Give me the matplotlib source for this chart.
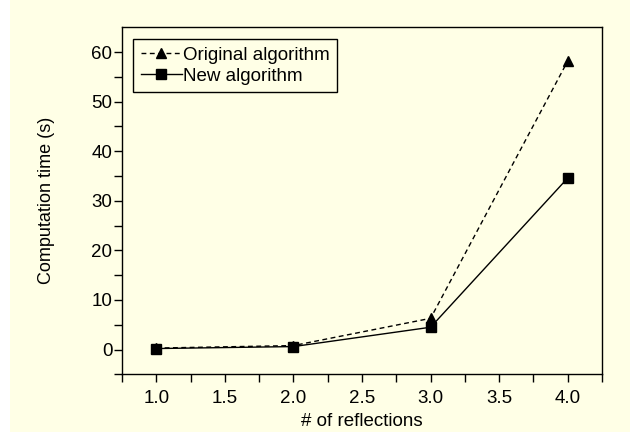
import matplotlib
matplotlib.use("Agg")
from matplotlib import pyplot as plt
from matplotlib.patches import Rectangle
from matplotlib.ticker import MultipleLocator

# Data
reflections = [1.0, 2.0, 3.0, 4.0]
original_time = [0.3, 0.8, 6.3, 58.2]
new_time = [0.2, 0.6, 4.5, 34.6]

bg = '#ffffe6'
plt.rcParams['font.family'] = ['Liberation Sans', 'DejaVu Sans']
plt.rcParams['font.size'] = 13.5

fig = plt.figure(figsize=(6.3, 4.43), dpi=100, facecolor='white')
# yellow panel, white margin on the left and bottom (drawn below the axes)
fig.patches.append(Rectangle((10 / 630, 11 / 443), 1, 1, transform=fig.transFigure,
                             facecolor=bg, edgecolor='none', zorder=-10))

ax = fig.add_axes([0.1937, 0.155, 0.9556 - 0.1937, 0.9384 - 0.155])
ax.set_facecolor(bg)

ax.plot(reflections, original_time, color='k', lw=1, ls=(0, (3.5, 2.5)),
        marker='^', ms=7, label='Original algorithm')
ax.plot(reflections, new_time, '-', color='k', lw=1, marker='s', ms=6.5,
        label='New algorithm')

ax.set_xlim(0.75, 4.25)
ax.set_ylim(-5, 65)
ax.xaxis.set_major_locator(MultipleLocator(0.5))
ax.xaxis.set_minor_locator(MultipleLocator(0.25))
ax.set_yticks([0, 10, 20, 30, 40, 50, 60])
ax.set_yticks([-5, 5, 15, 25, 35, 45, 55], minor=True)
ax.xaxis.set_major_formatter(plt.FormatStrFormatter('%.1f'))

ax.tick_params(which='both', direction='out', length=6, width=1, colors='k')
ax.tick_params(axis='y', which='major', pad=1)
ax.tick_params(axis='x', which='major', pad=5)
for s in ax.spines.values():
    s.set_linewidth(1)
    s.set_color('k')

ax.set_xlabel('# of reflections', va='center')
ax.set_ylabel('Computation time (s)', va='center', fontsize=13)
ax.xaxis.set_label_coords(0.5, -0.135)
ax.yaxis.set_label_coords(-0.158, 0.5)

leg = ax.legend(loc='upper left', markerfirst=True, handlelength=2.2,
                handletextpad=0.05, borderpad=0.4, labelspacing=0.2,
                fancybox=False, framealpha=1, edgecolor='k', borderaxespad=0,
                bbox_to_anchor=(0.023, 0.966))
leg.get_frame().set_facecolor(bg)
leg.get_frame().set_linewidth(1)

fig.savefig('out.png', dpi=100, facecolor='white')
